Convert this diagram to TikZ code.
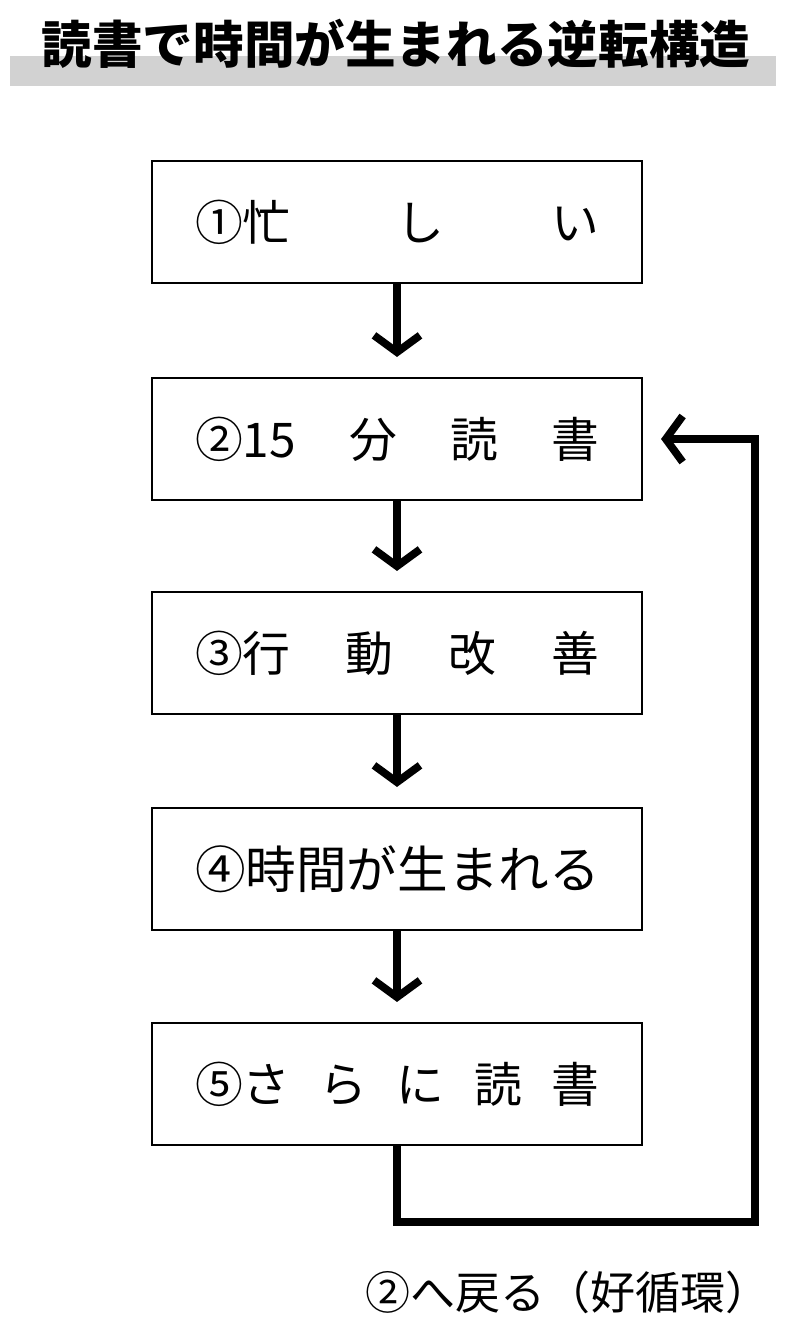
\documentclass[tikz,border=0pt]{standalone}
\usepackage{fontspec}
\newfontfamily\cjk{Noto Sans CJK JP}
\usetikzlibrary{arrows.meta,positioning}
\tikzset{
  stage/.style={draw, line width=1.5pt, minimum width=12.25cm, minimum height=3.05cm, font=\cjk\fontsize{34}{40}\selectfont},
  flow/.style={line width=5.5pt, -{Straight Barb[length=0.42cm,width=1.15cm]}}
}
\newcommand{\spread}[1]{\makebox[10.1cm][s]{#1}}
\begin{document}
\begin{tikzpicture}
            \useasboundingbox (0,0) rectangle (20,-33.3);
            % title with its grey band
            \fill[gray!35] (0.25,-1.4) rectangle (19.4,-2.15);
            \node (title) at (9.9,-1.1) {\cjk\bfseries\fontsize{36}{42}\selectfont 読書で時間が生まれる逆転構造};
            % the steps
            \node[stage] (s1) at (9.925,-5.55) {\spread{①忙\hfill し\hfill い}};
            \node[stage] (s2) at (9.925,-10.975) {\spread{②15\hfill 分\hfill 読\hfill 書}};
            \node[stage] (s3) at (9.925,-16.325) {\spread{③行\hfill 動\hfill 改\hfill 善}};
            \node[stage, font=\cjk\fontsize{36}{40}\selectfont] (s4) at (9.925,-21.725) {\spread{④時間が生まれる}};
            \node[stage] (s5) at (9.925,-27.1) {\spread{⑤さ\hfill ら\hfill に\hfill 読\hfill 書}};
            % the arrows
            \foreach \a/\b in {s1/s2, s2/s3, s3/s4, s4/s5}
              \draw[flow, shorten >=0.5cm] (\a.south) -- (\b.north);
            % back to step 2
            \coordinate (ret) at ([xshift=0.45cm]s2.east);
            \draw[flow] (s5.south) |- (18.875,-30.55) |- (ret);
            \node (back) at (14.2,-32.3) {\cjk\fontsize{32}{38}\selectfont ②へ戻る（好循環）};
\end{tikzpicture}
\end{document}
